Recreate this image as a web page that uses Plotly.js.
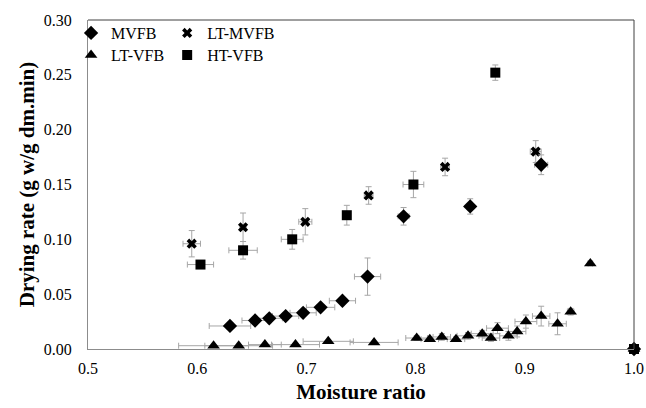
<!DOCTYPE html>
<html>
<head>
<meta charset="utf-8">
<script src="https://cdn.plot.ly/plotly-3.0.1.min.js"></script>
<style>html,body{margin:0;padding:0;background:#fff;}#chart{width:646px;height:408px;}</style>
</head>
<body>
<div id="chart"></div>
<script>
// MVFB
const mvfbX    = [0.630, 0.653, 0.666, 0.681, 0.697, 0.713, 0.733, 0.756, 0.789, 0.850, 0.915, 1.0];
const mvfbY    = [0.021, 0.026, 0.028, 0.030, 0.033, 0.038, 0.044, 0.066, 0.121, 0.130, 0.168, 0.0];
const mvfbYerr = [0.002, 0.002, 0.002, 0.002, 0.002, 0.002, 0.003, 0.017, 0.008, 0.007, 0.009, 0];
const mvfbXerr = [0.019, 0.012, 0.012, 0.012, 0.012, 0.013, 0.012, 0.012, 0.005, 0.003, 0.006, 0];
// LT-MVFB
const ltmX    = [0.595, 0.642, 0.699, 0.757, 0.827, 0.910, 1.0];
const ltmY    = [0.096, 0.111, 0.116, 0.140, 0.166, 0.180, 0];
const ltmYerr = [0.012, 0.013, 0.012, 0.008, 0.008, 0.010, 0];
const ltmXerr = [0.008, 0.003, 0.006, 0.004, 0.004, 0.005, 0];
// LT-VFB
const ltvX    = [0.615, 0.638, 0.662, 0.690, 0.720, 0.762, 0.801, 0.813, 0.824, 0.837, 0.848, 0.861, 0.869, 0.875, 0.885, 0.893, 0.901, 0.915, 0.930, 0.942, 0.960, 1.0];
const ltvY    = [0.003, 0.003, 0.004, 0.004, 0.007, 0.006, 0.010, 0.009, 0.011, 0.009, 0.012, 0.014, 0.010, 0.019, 0.012, 0.016, 0.025, 0.030, 0.023, 0.034, 0.078, 0];
const ltvYerr = [0.001, 0.001, 0.001, 0.001, 0.001, 0.001, 0.002, 0.002, 0.003, 0.002, 0.003, 0.003, 0.003, 0.005, 0.004, 0.005, 0.006, 0.009, 0.010, 0.003, 0.002, 0];
const ltvXerr = [0.032, 0.031, 0.015, 0.022, 0.023, 0.022, 0.010, 0.008, 0.008, 0.008, 0.010, 0.010, 0.008, 0.010, 0.008, 0.008, 0.010, 0.008, 0.008, 0.003, 0.002, 0];
// HT-VFB
const htvX    = [0.603, 0.642, 0.687, 0.737, 0.798, 0.873, 1.0];
const htvY    = [0.077, 0.090, 0.100, 0.122, 0.150, 0.252, 0];
const htvYerr = [0.003, 0.008, 0.009, 0.009, 0.012, 0.007, 0];
const htvXerr = [0.012, 0.013, 0.010, 0.003, 0.0095, 0.003, 0];

const xTicks = [0.5, 0.6, 0.7, 0.8, 0.9, 1.0];
const yTicks = [0.00, 0.05, 0.10, 0.15, 0.20, 0.25, 0.30];

const errColor = '#a6a6a6';
function errs(xe, ye) {
  return {
    error_x: {type: 'data', array: xe, visible: true, color: errColor, thickness: 1, width: 3},
    error_y: {type: 'data', array: ye, visible: true, color: errColor, thickness: 1, width: 3}
  };
}
function trace(name, x, y, xe, ye, symbol, size, legend) {
  return Object.assign({
    type: 'scatter', mode: 'markers', name: name, x: x, y: y,
    marker: {symbol: symbol, size: size, color: '#000000', line: {width: 0}},
    cliponaxis: false, legend: legend
  }, errs(xe, ye));
}

const data = [
  trace('LT-VFB', ltvX, ltvY, ltvXerr, ltvYerr, 'triangle-up', 11, 'legend3'),
  trace('HT-VFB', htvX, htvY, htvXerr, htvYerr, 'square', 10, 'legend4'),
  trace('LT-MVFB', ltmX, ltmY, ltmXerr, ltmYerr, 'x', 9, 'legend2'),
  trace('MVFB', mvfbX, mvfbY, mvfbXerr, mvfbYerr, 'diamond', 11, 'legend')
];

const serif = '"Liberation Serif", "Times New Roman", serif';
const font = {family: serif, size: 16, color: '#000'};
function leg(x, y) {
  return {
    orientation: 'v', xanchor: 'left', yanchor: 'top', x: x, y: y,
    bgcolor: 'rgba(0,0,0,0)', font: {family: serif, size: 16, color: '#000'},
    itemwidth: 30
  };
}

const layout = {
  width: 646, height: 408,
  margin: {l: 88, r: 12, t: 20, b: 59},
  paper_bgcolor: '#fff', plot_bgcolor: '#fff',
  font: font,
  showlegend: true,
  legend: leg(-0.031, 1.012),
  legend2: leg(0.145, 1.012),
  legend3: leg(-0.031, 0.945),
  legend4: leg(0.145, 0.945),
  xaxis: {
    range: [0.5, 1.0], tickvals: xTicks, tickformat: '.1f', ticks: '',
    showgrid: false, zeroline: false, showline: true, linecolor: '#8c8c8c', linewidth: 1,
    tickfont: font, ticklabelstandoff: 5,
    title: {text: '<b>Moisture ratio</b>', font: {family: serif, size: 21, color: '#000'}, standoff: 8}
  },
  yaxis: {
    range: [0, 0.30], tickvals: yTicks, tickformat: '.2f', ticks: '',
    showgrid: false, zeroline: false, showline: true, linecolor: '#8c8c8c', linewidth: 1,
    tickfont: font, ticklabelstandoff: 12,
    title: {text: '<b>Drying rate (g w/g dm.min)</b>', font: {family: serif, size: 21, color: '#000'}, standoff: 3}
  },
  shapes: [
    {type: 'line', xref: 'paper', yref: 'paper', x0: 0, x1: 1, y0: 1, y1: 1, line: {color: '#404040', width: 1}},
    {type: 'line', xref: 'paper', yref: 'paper', x0: 1, x1: 1, y0: 0, y1: 1, line: {color: '#404040', width: 1}}
  ]
};

Plotly.newPlot('chart', data, layout, {displayModeBar: false, staticPlot: true});
</script>
</body>
</html>
